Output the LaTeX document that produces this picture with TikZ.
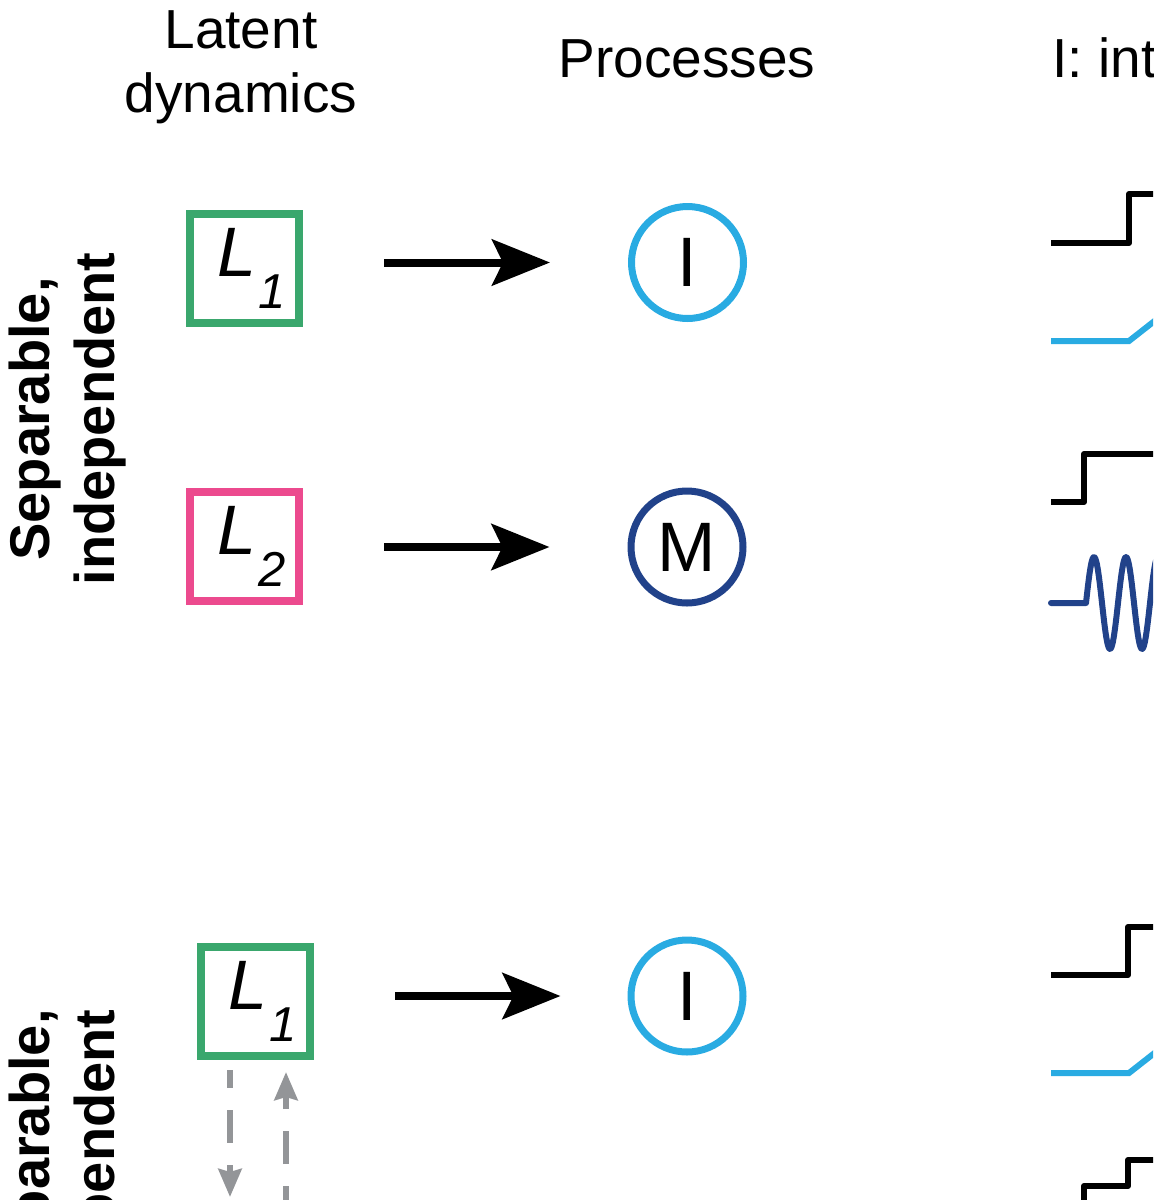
\documentclass[tikz,border=0pt]{standalone}
\usepackage{fontspec}
\setmainfont{Liberation Sans}
\usepackage{tikz}
\usetikzlibrary{arrows.meta}
\usepackage{xcolor}
\definecolor{latgreen}{RGB}{58,167,109}
\definecolor{latpink}{RGB}{236,74,142}
\definecolor{proccyan}{RGB}{41,171,226}
\definecolor{procnavy}{RGB}{33,66,138}
\definecolor{depgray}{RGB}{147,149,152}
\newcommand{\latsub}[1]{\hspace*{7pt}\itshape L\kern1pt\raisebox{-16pt}{\fontsize{24.5}{28}\selectfont #1}}

\begin{document}
\begin{tikzpicture}[x=0.5pt,y=-0.5pt,
  head/.style={font=\fontsize{27.5}{32}\selectfont,inner sep=0pt,align=center},
  side/.style={font=\fontsize{28}{32.5}\selectfont\bfseries,inner sep=0pt,align=center,rotate=90},
  lat/.style={draw,line width=4pt,minimum size=54.5pt,inner sep=0pt,font=\fontsize{35}{40}\selectfont},
  proc/.style={circle,draw,line width=3.5pt,minimum size=56pt,inner sep=0pt,font=\fontsize{35}{40}\selectfont},
  ar/.style={-{Stealth[length=29pt,width=23pt,inset=5.5pt]},line width=4pt,shorten <=40.5pt},
  dep/.style={-{Stealth[length=14pt,width=11.5pt,inset=1.5pt]},line width=3pt,draw=depgray,dash pattern=on 16.5pt off 11pt},
  sig/.style={line width=3pt,line join=round}]
\useasboundingbox (0,0) rectangle (1153,1200);
\clip (0,0) rectangle (1153,1200);
\node[head] (hlat) at (241,67) {Latent\\dynamics};
\node[head,anchor=base] (hproc) at (687,77) {Processes};
\node[head,anchor=base west] (hint) at (1052,77) {I: int};
\node[side] (sep1) at (68,419) {Separable,\\independent};
\node[side] (sep2) at (68,1151) {Separable,\\dependent};
\node[lat,draw=latgreen] (l1) at (244.5,268.5) {\latsub{1}};
\node[lat,draw=latpink] (l2) at (244.5,546.5) {\latsub{2}};
\node[lat,draw=latgreen] (l1b) at (255.5,1001.5) {\latsub{1}};
\coordinate (l2b) at (255.5,1219);
\node[proc,draw=proccyan] (p1) at (687.5,262.5) {I};
\node[proc,draw=procnavy] (p2) at (687,547) {M};
\node[proc,draw=proccyan] (p1b) at (687,996) {I};
\draw[ar,shorten >=39pt] (l1.east |- p1) -- (p1.west);
\draw[ar,shorten >=39pt] (l2.east |- p2) -- (p2.west);
\draw[ar,shorten >=33.5pt] (l1b.east |- p1b) -- (p1b.west);
\draw[dep,dash phase=7.5pt,shorten <=5pt,shorten >=11pt] ([xshift=-12.75pt]l1b.south) -- ([xshift=-12.75pt]l2b);
\draw[dep,shorten >=6pt] ([xshift=15.25pt]l2b) -- ([xshift=15.25pt]l1b.south);
\draw[sig] (1051,243) -- (1129,243) -- (1129,194) -- (1170,194);
\draw[sig,proccyan,line join=miter] (1051,341) -- (1129,341) -- (1180,301);
\draw[sig] (1051,502) -- (1084,502) -- (1084,454) -- (1170,454);
\draw[sig,procnavy,line cap=round] (1051,603) -- (1086,603) -- plot[domain=0:80,samples=120] ({1086+\x},{603-46*sin(\x*11.25)});
\draw[sig] (1051,975) -- (1128,975) -- (1128,927) -- (1170,927);
\draw[sig,proccyan,line join=miter] (1051,1073) -- (1129,1073) -- (1180,1033);
\draw[sig] (1084,1220) -- (1084,1186) -- (1128,1186) -- (1128,1160) -- (1170,1160);
\end{tikzpicture}
\end{document}
